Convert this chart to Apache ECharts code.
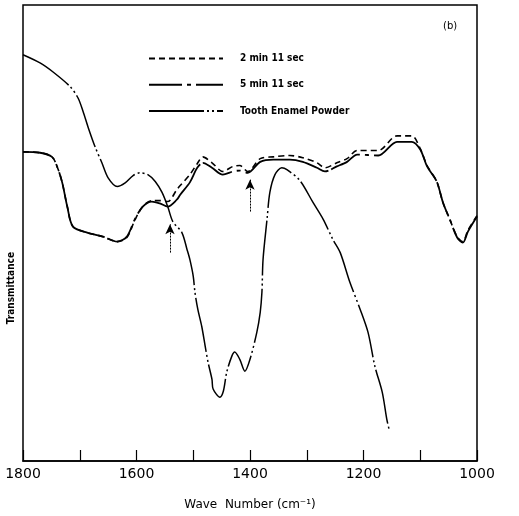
<!DOCTYPE html>
<html>
<head>
<meta charset="utf-8">
<script src="https://cdn.jsdelivr.net/npm/echarts@6/dist/echarts.min.js"></script>
<style>
  html, body { margin: 0; padding: 0; background: #fff; }
  #chart { width: 519px; height: 516px; }
</style>
</head>
<body>
<div id="chart"></div>
<script>
// wave numbers (cm-1) shared by the two timed spectra
const timedWn = [1800, 1770, 1749, 1740, 1731, 1722, 1712, 1687, 1659, 1634, 1617, 1603, 1589, 1573, 1559, 1545,
  1529, 1523, 1506, 1493, 1483, 1467, 1448, 1430, 1418, 1404, 1382, 1359, 1330, 1307, 1282, 1268, 1247, 1229,
  1211, 1174, 1141, 1115, 1100, 1088, 1071, 1060, 1048, 1035, 1025, 1016, 1000];
// 2 min 11 sec (dashed)
const twoMinT = [67.8, 67.6, 66.7, 64.6, 61.1, 55.8, 51.4, 50.1, 49.2, 48.1, 49.0, 52.8, 55.8, 57.1, 57.1, 56.9,
  59.5, 60.4, 62.8, 65.2, 66.7, 65.4, 63.5, 64.6, 64.8, 63.5, 66.3, 66.7, 67.0, 66.5, 65.4, 64.3, 65.4, 66.3,
  68.1, 68.1, 71.3, 71.3, 68.5, 64.8, 61.3, 56.7, 53.0, 49.2, 48.1, 50.6, 53.8];
// 5 min 11 sec
const fiveMinT = [67.8, 67.6, 66.7, 64.6, 61.1, 55.8, 51.4, 50.1, 49.2, 48.1, 49.2, 53.0, 55.8, 56.9, 56.5, 55.8,
  57.3, 58.4, 61.1, 64.3, 65.4, 64.3, 62.8, 63.5, 63.7, 63.2, 65.6, 66.1, 66.1, 65.6, 64.3, 63.5, 64.6, 65.6,
  67.2, 67.0, 70.0, 70.0, 68.3, 64.6, 61.3, 56.7, 53.0, 49.0, 47.9, 50.3, 53.6];
// tooth enamel powder
const enamelWn = [1800, 1770, 1747, 1717, 1703, 1694, 1685, 1673, 1661, 1650, 1634, 1620, 1606, 1594, 1580, 1567,
  1555, 1545, 1536, 1520, 1511, 1506, 1500, 1497, 1492, 1485, 1479, 1474, 1467, 1465, 1453, 1447, 1441, 1432,
  1427, 1418, 1409, 1400, 1388, 1382, 1379, 1377, 1370, 1365, 1356, 1344, 1335, 1312, 1289, 1271, 1254, 1241,
  1224, 1206, 1192, 1180, 1167, 1159, 1155];
const enamelT = [89.1, 87.3, 85.3, 82.1, 79.6, 76.6, 73.1, 68.9, 65.4, 62.1, 60.2, 61.0, 62.6, 63.2, 62.8, 61.3,
  58.9, 55.8, 52.5, 50.1, 46.4, 44.2, 40.5, 37.0, 33.3, 29.5, 25.2, 21.7, 17.9, 15.8, 14.0, 15.3, 19.5, 23.0,
  23.9, 22.3, 19.7, 22.3, 28.2, 32.6, 37.0, 44.2, 53.0, 58.9, 62.8, 64.3, 63.9, 61.5, 56.7, 53.0, 48.6, 45.7,
  39.2, 33.3, 28.2, 20.8, 15.1, 9.2, 7.0];
// arrows marking bands: [wave number, tail T, tip T]
const arrows = [[1541, 45.7, 51.9], [1400, 54.7, 61.7]];
const xTicks = [1800, 1600, 1400, 1200, 1000];

const names = ["2 min 11 sec", "5 min 11 sec", "Tooth Enamel Powder"];

function pairs(xs, ys) {
  return xs.map((x, i) => [x, ys[i]]);
}

const chart = echarts.init(document.getElementById("chart"));

const option = {
  animation: false,
  backgroundColor: "#fff",
  grid: {
    left: 23,
    right: 42,
    top: 5,
    bottom: 54,
    show: true,
    borderColor: "#000",
    borderWidth: 1.5,
  },
  legend: {
    orient: "vertical",
    left: 143,
    top: 48,
    itemWidth: 74,
    itemHeight: 14,
    itemGap: 15,
    data: names,
    itemStyle: { opacity: 0 },
    textStyle: {
      color: "#000",
      fontSize: 10,
      fontWeight: "bold",
      fontFamily: "Liberation Sans Narrow, DejaVu Sans Condensed, Liberation Sans, sans-serif",
      padding: [0, 0, 0, 12],
    },
  },
  title: {
    text: "(b)",
    left: 438,
    top: 16,
    textStyle: { fontSize: 10, fontWeight: "normal", color: "#000", fontFamily: "DejaVu Sans" },
  },
  graphic: [
    {
      type: "text",
      left: 6,
      top: 252,
      rotation: Math.PI / 2,
      style: {
        text: "Transmittance",
        fill: "#000",
        font: "bold 10px Liberation Sans Narrow, DejaVu Sans Condensed, sans-serif",
      },
    },
  ],
  xAxis: {
    type: "value",
    min: 1000,
    max: 1800,
    interval: 100,
    inverse: true,
    name: "Wave  Number (cm⁻¹)",
    nameLocation: "middle",
    nameGap: 38,
    nameTextStyle: { color: "#000", fontSize: 12, fontFamily: "DejaVu Sans" },
    axisLine: { show: true, lineStyle: { color: "#000", width: 1.5 } },
    axisTick: { show: true, inside: true, length: 11, lineStyle: { color: "#000", width: 1.2 } },
    axisLabel: {
      color: "#000",
      fontSize: 14,
      fontFamily: "DejaVu Sans",
      margin: 6,
      formatter: (v) => (xTicks.includes(v) ? String(v) : ""),
    },
    splitLine: { show: false },
  },
  yAxis: {
    type: "value",
    min: 0,
    max: 100,
    axisLine: { show: false },
    axisTick: { show: false },
    axisLabel: { show: false },
    splitLine: { show: false },
  },
  series: [
    {
      name: names[0],
      type: "line",
      symbol: "none",
      smooth: 0.3,
      data: pairs(timedWn, twoMinT),
      lineStyle: { color: "#000", width: 1.6, type: [6, 4] },
      itemStyle: { color: "#000" },
    },
    {
      name: names[1],
      type: "line",
      symbol: "none",
      smooth: 0.3,
      data: pairs(timedWn, fiveMinT),
      lineStyle: { color: "#000", width: 1.8, type: [33, 5, 4, 5, 90, 3] },
      itemStyle: { color: "#000" },
    },
    {
      name: names[2],
      type: "line",
      symbol: "none",
      smooth: 0.3,
      data: pairs(enamelWn, enamelT),
      lineStyle: { color: "#000", width: 1.5, type: [55, 3, 2, 3, 2, 3] },
      itemStyle: { color: "#000" },
      markLine: {
        silent: true,
        symbol: ["none", "arrow"],
        symbolSize: [7, 10],
        label: { show: false },
        lineStyle: { color: "#000", width: 1, type: [2, 1] },
        data: arrows.map((a) => [{ coord: [a[0], a[1]] }, { coord: [a[0], a[2]] }]),
      },
    },
  ],
};

chart.setOption(option);
</script>
</body>
</html>
